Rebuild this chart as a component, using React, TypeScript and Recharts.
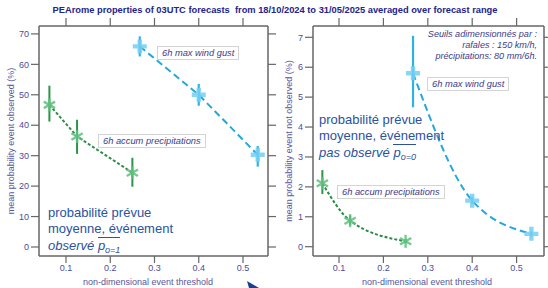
import React from 'react'
import { LineChart, Line, XAxis, YAxis, ErrorBar } from 'recharts'

// thresholds (non-dimensional)
const precipThresholds = [0.0625, 0.125, 0.25]
const windThresholds = [0.2667, 0.4, 0.5333]

// event observed (%)
const precipObserved = [46.7, 36.3, 24.4]
const precipObservedLow = [41.2, 30.6, 19.8]
const precipObservedHigh = [53.0, 41.8, 29.3]
const windObserved = [65.9, 50.0, 30.3]
const windObservedLow = [62.6, 46.4, 26.4]
const windObservedHigh = [69.2, 53.6, 33.2]

// event not observed (%)
const precipNotObserved = [2.12, 0.87, 0.18]
const precipNotObservedLow = [1.76, 0.72, 0.12]
const precipNotObservedHigh = [2.56, 1.04, 0.25]
const windNotObserved = [5.8, 1.54, 0.43]
const windNotObservedLow = [4.66, 1.42, 0.34]
const windNotObservedHigh = [7.05, 1.66, 0.52]

const xTicks = [0.1, 0.2, 0.3, 0.4, 0.5]
const observedTicks = [0, 10, 20, 30, 40, 50, 60, 70]
const notObservedTicks = [0, 1, 2, 3, 4, 5, 6, 7]

const FONT = '"Liberation Sans", Arial, sans-serif'
const FRAME = '#666'
const TICK_TEXT = '#4c4c9c'
const NOTE = '#3c3c8c'
const BIG = '#2a52a0'

const toRows = (xs: number[], ys: number[], lo: number[], hi: number[]) =>
  xs.map((x, i) => ({ x, y: ys[i], err: [ys[i] - lo[i], hi[i] - ys[i]] }))

function PlusDot(props: any) {
  const { cx, cy, index } = props
  if (cx == null || cy == null) return <g key={index} />
  const a = 7
  const t = 2.2
  const d = `M${cx - a},${cy - t} H${cx - t} V${cy - a} H${cx + t} V${cy - t} H${cx + a} V${cy + t} H${cx + t} V${cy + a} H${cx - t} V${cy + t} H${cx - a} Z`
  return <path key={index} d={d} fill="#72cff2" fillOpacity={0.85} />
}

function StarDot(props: any) {
  const { cx, cy, index } = props
  if (cx == null || cy == null) return <g key={index} />
  const r = 6.5
  return (
    <g key={index} stroke="#5fbf7e" strokeOpacity={0.85} strokeWidth={2.4}>
      {[90, 30, 150].map((deg) => {
        const rad = (deg * Math.PI) / 180
        const dx = r * Math.cos(rad)
        const dy = r * Math.sin(rad)
        return <line key={deg} x1={cx - dx} y1={cy - dy} x2={cx + dx} y2={cy + dy} />
      })}
    </g>
  )
}

const noLabel = () => <g />

interface PanelProps {
  left: number
  right: number
  xDomain: [number, number]
  yDomain: [number, number]
  yTicks: number[]
  precip: { x: number; y: number; err: number[] }[]
  wind: { x: number; y: number; err: number[] }[]
  curve: 'linear' | 'monotone'
}

function Panel({ left, right, xDomain, yDomain, yTicks, precip, wind, curve }: PanelProps) {
  const axisLine = { stroke: FRAME, strokeWidth: 1.5 }
  const tickLine = { stroke: FRAME, strokeWidth: 1.2 }
  const tick = { fill: TICK_TEXT, fontSize: 9, fontFamily: FONT }
  return (
    <div style={{ position: 'absolute', left: 0, top: 0 }}>
      <LineChart
        width={548}
        height={288}
        margin={{ top: 18, right: right, bottom: 12, left: left }}
      >
        <XAxis
          xAxisId={0}
          type="number"
          dataKey="x"
          domain={xDomain}
          allowDataOverflow
          ticks={xTicks}
          tickFormatter={(v: number) => v.toFixed(1)}
          height={20}
          tickSize={7}
          axisLine={axisLine}
          tickLine={tickLine}
          tick={tick}
        />
        <XAxis
          xAxisId="top"
          orientation="top"
          type="number"
          dataKey="x"
          domain={xDomain}
          allowDataOverflow
          ticks={xTicks}
          height={8}
          tickSize={8}
          axisLine={axisLine}
          tickLine={tickLine}
          tick={noLabel}
        />
        <YAxis
          yAxisId={0}
          type="number"
          domain={yDomain}
          allowDataOverflow
          ticks={yTicks}
          width={39}
          tickSize={8}
          axisLine={axisLine}
          tickLine={tickLine}
          tick={tick}
        />
        <YAxis
          yAxisId="right"
          orientation="right"
          type="number"
          domain={yDomain}
          allowDataOverflow
          ticks={yTicks}
          width={right === 0 ? 4 : 10}
          tickSize={8}
          axisLine={axisLine}
          tickLine={tickLine}
          tick={noLabel}
        />
        <Line
          data={precip}
          dataKey="y"
          type={curve}
          stroke="#2e8c48"
          strokeWidth={2}
          strokeDasharray="3 2"
          dot={StarDot}
          activeDot={false}
          isAnimationActive={false}
        >
          <ErrorBar dataKey="err" width={0} stroke="#2a9447" strokeWidth={2} direction="y" />
        </Line>
        <Line
          data={wind}
          dataKey="y"
          type={curve}
          stroke="#22a8de"
          strokeWidth={2}
          strokeDasharray="7 4"
          dot={PlusDot}
          activeDot={false}
          isAnimationActive={false}
        >
          <ErrorBar dataKey="err" width={0} stroke="#2eb2e6" strokeWidth={2.2} direction="y" />
        </Line>
      </LineChart>
    </div>
  )
}

const boxNote: React.CSSProperties = {
  position: 'absolute',
  background: '#fff',
  border: '1px solid #d4d4d4',
  fontFamily: FONT,
  fontStyle: 'italic',
  fontSize: 9.3,
  color: NOTE,
  lineHeight: '12px',
  padding: '0 4px',
  whiteSpace: 'nowrap',
}

const bigNote: React.CSSProperties = {
  position: 'absolute',
  fontFamily: FONT,
  fontSize: 13,
  lineHeight: '16px',
  color: BIG,
  whiteSpace: 'nowrap',
}

function PBar({ sub }: { sub: string }) {
  return (
    <span style={{ fontStyle: 'italic', borderTop: `1px solid ${BIG}`, display: 'inline-block', lineHeight: '13px', paddingTop: 1 }}>
      p<span style={{ fontSize: 9, position: 'relative', top: 3 }}>{sub}</span>
    </span>
  )
}

export default function App() {
  return (
    <div style={{ position: 'absolute', left: 0, top: 0, width: 548, height: 288, background: '#fff', overflow: 'hidden' }}>
      <Panel
        left={0}
        right={270}
        xDomain={[0.039, 0.5565]}
        yDomain={[-2.96, 72.6]}
        yTicks={observedTicks}
        precip={toRows(precipThresholds, precipObserved, precipObservedLow, precipObservedHigh)}
        wind={toRows(windThresholds, windObserved, windObservedLow, windObservedHigh)}
        curve="linear"
      />
      <Panel
        left={274}
        right={0}
        xDomain={[0.0414, 0.5617]}
        yDomain={[-0.311, 7.378]}
        yTicks={notObservedTicks}
        precip={toRows(precipThresholds, precipNotObserved, precipNotObservedLow, precipNotObservedHigh)}
        wind={toRows(windThresholds, windNotObserved, windNotObservedLow, windNotObservedHigh)}
        curve="monotone"
      />

      <svg width={548} height={288} style={{ position: 'absolute', left: 0, top: 0, pointerEvents: 'none' }}>
        <text x={275} y={13} textAnchor="middle" fontFamily={FONT} fontSize={9.3} fontWeight="bold" fill="#23238c">
          PEArome properties of 03UTC forecasts {'\u00a0'}from 18/10/2024 to 31/05/2025 averaged over forecast range
        </text>
        <text x={148} y={285} textAnchor="middle" fontFamily={FONT} fontSize={9} fill="#5656a0">
          non-dimensional event threshold
        </text>
        <text x={427} y={285} textAnchor="middle" fontFamily={FONT} fontSize={9} fill="#5656a0">
          non-dimensional event threshold
        </text>
        <text transform="translate(14,141) rotate(-90)" textAnchor="middle" fontFamily={FONT} fontSize={9} fill="#5656a0">
          mean probability event observed (%)
        </text>
        <text transform="translate(292,141) rotate(-90)" textAnchor="middle" fontFamily={FONT} fontSize={9} fill="#5656a0">
          mean probability event not observed (%)
        </text>
        <polygon points="247,281 259,288 249,288" fill="#1d3f8f" />
      </svg>

      <div style={{ ...boxNote, left: 157, top: 46 }}>6h max wind gust</div>
      <div style={{ ...boxNote, left: 98, top: 134 }}>6h accum precipitations</div>
      <div style={{ ...boxNote, left: 427, top: 77 }}>6h max wind gust</div>
      <div style={{ ...boxNote, left: 337, top: 185 }}>6h accum precipitations</div>

      <div style={{ position: 'absolute', right: 11, top: 29, textAlign: 'right', fontFamily: FONT, fontStyle: 'italic', fontSize: 9.1, lineHeight: '11px', color: NOTE }}>
        Seuils adimensionnés par :<br />
        rafales : 150 km/h,<br />
        précipitations: 80 mm/6h.
      </div>

      <div style={{ ...bigNote, left: 48, top: 205 }}>
        probabilité prévue<br />
        moyenne, événement<br />
        <i>observé</i> <PBar sub="o=1" />
      </div>
      <div style={{ ...bigNote, left: 319, top: 112 }}>
        probabilité prévue<br />
        moyenne, événement<br />
        <i>pas observé</i> <PBar sub="o=0" />
      </div>
    </div>
  )
}
